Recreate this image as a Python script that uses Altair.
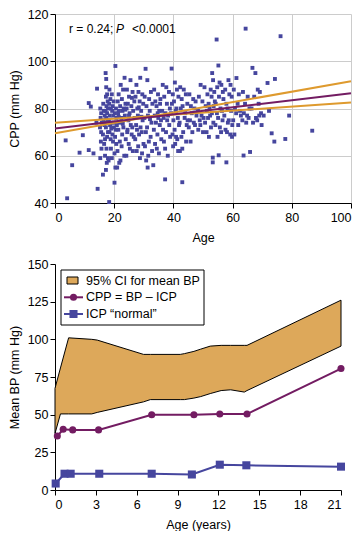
import altair as alt
import pandas as pd

# ---------------- Top panel: scatter of CPP vs Age ----------------
pts = [
    # sparse young
    (3.6, 66.5), (4.1, 42), (5.8, 56), (8.3, 61.3), (9.4, 68.7), (11.4, 62.4), (11.4, 82.3),
    (13.0, 61), (12.1, 80.8), (14.0, 74),
    # 14-18
    (14.2, 88.4), (14.4, 46), (15.3, 80), (15.6, 78), (15.4, 76), (15.8, 74), (15.2, 72), (15.6, 70),
    (15.5, 66), (15.7, 63), (15.3, 59), (16.2, 52), (16.3, 82), (16.5, 79), (16.8, 77), (16.4, 75),
    (16.7, 73), (16.2, 69), (16.9, 67), (16.6, 65), (16.9, 60), (17.1, 95), (17.3, 92.5), (17.3, 89),
    (17.6, 86), (17.2, 85), (17.8, 83), (17.4, 81), (17.9, 80), (17.1, 79), (17.6, 78), (17.3, 76),
    (17.8, 75), (17.5, 74), (17.2, 72), (17.9, 70), (17.6, 68), (17.4, 63), (17.9, 59), (17.5, 57),
    (17.2, 54),
    # 18-21
    (20.4, 98), (18.4, 88), (19.2, 86), (18.7, 84), (19.8, 83), (18.3, 82), (19.5, 81), (20.6, 80),
    (18.9, 80), (19.3, 79), (20.2, 78), (18.5, 77), (19.7, 77), (20.8, 76), (18.2, 75), (19.1, 74),
    (20.0, 74), (18.6, 73), (19.9, 72), (20.5, 71), (18.4, 70), (19.4, 69), (20.3, 68), (18.8, 67),
    (19.6, 66), (20.7, 65), (18.9, 63), (20.1, 61), (19.2, 59), (20.4, 55), (18.3, 40.4), (20.1, 48.6),
    (18.1, 58), (19.0, 71.5), (20.9, 73),
    # 21-24
    (23.5, 93), (22.2, 90), (23.0, 88), (21.5, 86), (22.6, 84), (21.2, 83), (23.8, 82), (22.0, 81),
    (23.2, 80), (21.6, 79), (22.8, 79), (21.3, 78), (23.6, 77), (22.4, 76), (21.8, 74), (23.1, 72),
    (21.4, 71), (22.7, 69), (23.9, 67), (21.9, 66), (22.5, 64), (21.1, 62), (23.4, 60), (22.1, 58),
    (21.7, 57), (21.0, 55), (22.9, 73.5), (21.5, 76.5), (23.7, 79.5),
    # 24-27
    (25.5, 92), (24.3, 88), (26.2, 87), (25.0, 85), (26.8, 83), (24.6, 82), (25.8, 81), (24.2, 80),
    (26.4, 79), (25.2, 78), (26.9, 76), (24.8, 75), (25.6, 73), (26.1, 72), (24.4, 70), (25.9, 69),
    (26.6, 68), (24.9, 65), (25.3, 63), (26.3, 62), (24.1, 60), (26.0, 84.5), (25.0, 77), (24.5, 71),
    # 27-30
    (28.8, 93), (27.5, 90), (28.2, 87), (29.5, 86), (27.2, 85), (28.6, 83), (29.8, 82), (27.8, 80),
    (29.1, 79), (28.0, 77), (29.6, 75), (27.4, 73), (28.9, 72), (27.7, 71), (29.3, 70), (28.4, 69),
    (27.1, 67), (29.9, 65), (28.1, 64), (27.6, 62), (29.4, 61), (28.7, 59), (28.3, 80.5), (29.2, 76.5),
    # 30-33
    (30.6, 96.8), (31.2, 92), (32.4, 87), (30.3, 85), (31.8, 84), (32.9, 82), (30.9, 81), (32.0, 79),
    (31.4, 77), (30.2, 76), (32.6, 74), (31.1, 72), (30.7, 70), (32.3, 68), (31.7, 66), (30.4, 64),
    (32.8, 62), (31.5, 60), (30.8, 58), (31.3, 55), (33.2, 56), (32.1, 75.5),
    # 33-36
    (33.5, 88), (34.8, 86), (35.6, 84), (33.9, 83), (34.3, 81), (35.2, 79), (33.7, 77), (34.9, 76),
    (35.8, 75), (34.1, 74), (35.4, 73), (33.4, 71), (34.6, 69), (35.9, 67), (33.8, 65), (34.4, 63),
    (35.1, 61), (34.7, 78), (35.5, 82),
    # 36-39
    (36.4, 90), (37.6, 89), (38.5, 87), (36.9, 85), (37.8, 82), (38.8, 80), (36.2, 79), (37.3, 78),
    (38.2, 77), (36.7, 76), (37.9, 75), (38.6, 73), (36.5, 71), (37.5, 70), (38.9, 68), (36.8, 66),
    (37.2, 63), (38.1, 60), (37.2, 50),
    # 39-42
    (39.4, 96.9), (40.5, 91), (41.2, 88), (39.8, 86), (41.7, 85), (40.2, 83), (39.5, 82), (41.0, 80),
    (40.8, 79), (39.2, 78), (41.5, 76), (40.0, 75), (41.9, 73), (40.4, 71), (39.7, 69), (41.3, 67),
    (40.6, 65), (39.9, 64), (41.6, 62), (40.9, 68),
    # 42-45
    (42.3, 89), (43.5, 88), (44.2, 86), (42.8, 84), (44.7, 82), (43.1, 81), (42.5, 80), (44.0, 78),
    (43.8, 76), (42.1, 74), (44.5, 73), (43.3, 70), (42.7, 68), (44.3, 66), (43.0, 63), (43.0, 48.8),
    (42.2, 62), (44.8, 75),
    # 45-48
    (45.4, 86), (46.7, 84), (47.5, 83), (45.9, 81), (47.1, 80), (46.2, 78), (47.8, 77), (45.6, 75),
    (46.9, 74), (47.3, 73), (45.2, 72), (46.4, 70), (45.8, 66),
    # 48-51
    (49.2, 90), (50.5, 89), (48.6, 85), (49.8, 83), (50.9, 81), (48.3, 79), (49.5, 77), (50.2, 76),
    (48.9, 75), (50.7, 74), (49.1, 73), (48.4, 71), (50.0, 70),
    # 51-54
    (53.1, 95), (53.4, 92), (52.6, 88), (53.8, 87), (51.5, 86), (52.9, 85), (51.9, 82), (53.6, 81),
    (52.2, 80), (51.3, 79), (53.0, 78), (52.4, 77), (51.7, 76), (53.5, 74), (52.7, 72), (51.2, 70),
    (52.0, 68), (53.3, 59.2), (53.3, 57.2), (54.0, 83),
    # 54-57
    (55.2, 98.2), (54.6, 109.2), (55.6, 91), (56.2, 90), (54.8, 89), (56.7, 87), (55.4, 85), (56.9, 84),
    (54.3, 82), (55.9, 80), (56.4, 79), (54.7, 78), (55.1, 76), (56.6, 75), (54.2, 73), (55.7, 72),
    (56.1, 70), (54.9, 68), (55.3, 60.2),
    # 57-60
    (58.6, 92), (59.3, 90), (57.5, 88), (58.9, 86), (59.7, 85), (57.9, 82), (58.3, 80), (59.5, 79),
    (57.2, 77), (58.7, 75), (59.9, 73), (57.6, 71), (58.1, 70), (59.2, 69), (59.8, 68), (57.9, 57.2),
    (58.4, 74),
    # 60-63
    (61.3, 92.9), (60.4, 88), (62.1, 86), (61.7, 82), (60.8, 80), (62.5, 79), (61.2, 78), (62.8, 77),
    (60.2, 75), (61.9, 73), (60.6, 69),
    # 63-66
    (64.4, 113.8), (63.5, 87), (65.1, 85), (64.2, 82), (65.7, 80), (63.8, 78), (64.9, 77), (65.4, 76),
    (63.3, 75), (64.6, 74), (63.7, 60.1), (65.9, 61.6),
    # 66-70
    (66.7, 97.2), (67.7, 95), (68.5, 88), (69.2, 87), (67.3, 85), (68.8, 82), (66.4, 80), (69.6, 78),
    (67.9, 76), (68.3, 75), (66.9, 74), (69.8, 73), (69.0, 77),
    # 70+
    (71.8, 90.8), (72.3, 79), (70.5, 77), (74.3, 92.5), (73.2, 69.5), (74.1, 66), (77.8, 67.1),
    (79.1, 77), (86.9, 70.6), (76.2, 110.6),
]
age = [p[0] for p in pts]
cpp = [p[1] for p in pts]

line_age = [0, 100]
fit_cpp = [71.5, 86.5]
ci_a = [74.0, 82.5]
ci_b = [69.5, 91.5]

# ---------------- Bottom panel ----------------
band_age = [0, 0.4, 1.0, 2.7, 3.1, 6.5, 7.0, 9.2, 9.5, 10.2, 10.7, 11.4, 12.2, 12.9, 13.9, 14.1, 21]
band_hi = [67.5, 81, 101, 100, 99.5, 90, 90, 90, 90.5, 92, 93.5, 95.5, 96, 96, 96, 96, 126]
band_lo = [37.5, 50.5, 50.5, 50.5, 51.5, 58.5, 60, 60, 60, 61, 62, 64, 66, 66.5, 65, 66, 95.5]

cpp_age = [0.17, 0.6, 1.3, 3.2, 7.1, 10.2, 12.1, 14.1, 21]
cpp_val = [35.8, 40.3, 39.9, 39.9, 50, 50, 50.4, 50.4, 80.6]

icp_age = [0.05, 0.7, 1.15, 3.25, 7.1, 10.05, 12.1, 14.05, 21.0]
icp_val = [4.3, 10.8, 10.8, 10.8, 10.8, 10.3, 16.8, 16.4, 15.5]

legend_labels = ["95% CI for mean BP", "CPP = BP \u2013 ICP", "ICP \u201cnormal\u201d"]

FONT = "Liberation Sans"
ORANGE = "#DE9A2E"
PURPLE = "#731C62"
BLUE = "#46469E"
BAND = "#DDA85A"


def one():
    return pd.DataFrame({"a": [0]})


# ---- top chart ----
W1, H1 = 296, 189
sc = pd.DataFrame({"age": age, "cpp": cpp})
xs1 = alt.Scale(domain=[0, 100], nice=False)
ys1 = alt.Scale(domain=[40, 120], nice=False)
xax1 = alt.Axis(title="Age", values=[0, 20, 40, 60, 80, 100], grid=True)
yax1 = alt.Axis(title="CPP (mm Hg)", values=[40, 60, 80, 100, 120], grid=True)

scatter = alt.Chart(sc).mark_square(size=15, color=BLUE, opacity=1).encode(
    x=alt.X("age:Q", scale=xs1, axis=xax1),
    y=alt.Y("cpp:Q", scale=ys1, axis=yax1),
)

ldf = pd.DataFrame({"age": line_age, "fit": fit_cpp, "a": ci_a, "b": ci_b})
line_a = alt.Chart(ldf).mark_line(color=ORANGE, strokeWidth=2).encode(
    x=alt.X("age:Q", scale=xs1, axis=xax1), y=alt.Y("a:Q", scale=ys1, axis=yax1))
line_b = alt.Chart(ldf).mark_line(color=ORANGE, strokeWidth=2).encode(
    x=alt.X("age:Q", scale=xs1, axis=xax1), y=alt.Y("b:Q", scale=ys1, axis=yax1))
line_fit = alt.Chart(ldf).mark_line(color=PURPLE, strokeWidth=2).encode(
    x=alt.X("age:Q", scale=xs1, axis=xax1), y=alt.Y("fit:Q", scale=ys1, axis=yax1))

ann_1 = alt.Chart(one()).mark_text(align="left", baseline="middle", fontSize=12, font=FONT,
                                   color="black", text="r = 0.24;").encode(x=alt.value(14), y=alt.value(15))
ann_2 = alt.Chart(one()).mark_text(align="left", baseline="middle", fontSize=12, font=FONT,
                                   fontStyle="italic", color="black", text="P").encode(x=alt.value(61), y=alt.value(15))
ann_3 = alt.Chart(one()).mark_text(align="left", baseline="middle", fontSize=12, font=FONT,
                                   color="black", text="<0.0001").encode(x=alt.value(77), y=alt.value(15))

top = alt.layer(scatter, line_a, line_b, line_fit, ann_1, ann_2, ann_3).properties(width=W1, height=H1)

# ---- bottom chart ----
W2, H2 = 286, 226
xs2 = alt.Scale(domain=[0, 21], nice=False)
ys2 = alt.Scale(domain=[0, 150], nice=False)
xax2 = alt.Axis(title="Age (years)", values=[0, 3, 6, 9, 12, 15, 18, 21], grid=False)
yax2 = alt.Axis(title="Mean BP (mm Hg)", values=[0, 25, 50, 75, 100, 125, 150], grid=False, labelOverlap=False)

bdf = pd.DataFrame({"age": band_age, "hi": band_hi, "lo": band_lo})
band = alt.Chart(bdf).mark_area(color=BAND, opacity=1, stroke="black", strokeWidth=1).encode(
    x=alt.X("age:Q", scale=xs2, axis=xax2),
    y=alt.Y("lo:Q", scale=ys2, axis=yax2),
    y2="hi:Q",
)

cdf = pd.DataFrame({"age": cpp_age, "v": cpp_val})
cpp_line = alt.Chart(cdf).mark_line(color=PURPLE, strokeWidth=2,
                                     point=alt.OverlayMarkDef(filled=True, size=50, color=PURPLE)).encode(
    x=alt.X("age:Q", scale=xs2, axis=xax2), y=alt.Y("v:Q", scale=ys2, axis=yax2))

idf = pd.DataFrame({"age": icp_age, "v": icp_val})
icp_line = alt.Chart(idf).mark_line(color=BLUE, strokeWidth=2,
                                     point=alt.OverlayMarkDef(filled=True, size=65, shape="square", color=BLUE)).encode(
    x=alt.X("age:Q", scale=xs2, axis=xax2), y=alt.Y("v:Q", scale=ys2, axis=yax2))

# manual legend (pixel positions inside plot area)
leg_box = alt.Chart(one()).mark_rect(fill="white", stroke="black", strokeWidth=1).encode(
    x=alt.value(6), x2=alt.value(149), y=alt.value(6), y2=alt.value(61))
leg_sw = alt.Chart(one()).mark_rect(fill=BAND, stroke="black", strokeWidth=1).encode(
    x=alt.value(12), x2=alt.value(23), y=alt.value(13), y2=alt.value(20))
leg_l1 = alt.Chart(one()).mark_rule(color=PURPLE, strokeWidth=2).encode(
    x=alt.value(9), x2=alt.value(28), y=alt.value(33.3))
leg_p1 = alt.Chart(one()).mark_point(filled=True, size=50, color=PURPLE, opacity=1).encode(
    x=alt.value(18.5), y=alt.value(33.3))
leg_l2 = alt.Chart(one()).mark_rule(color=BLUE, strokeWidth=2).encode(
    x=alt.value(9), x2=alt.value(28), y=alt.value(50))
leg_p2 = alt.Chart(one()).mark_square(size=65, color=BLUE, opacity=1).encode(
    x=alt.value(18.5), y=alt.value(50))
leg_t = []
for lab, yy in zip(legend_labels, [16.5, 33.3, 50]):
    leg_t.append(alt.Chart(one()).mark_text(align="left", baseline="middle", fontSize=12.5, font=FONT,
                                            color="black", text=lab).encode(x=alt.value(31), y=alt.value(yy)))

bottom = alt.layer(band, cpp_line, icp_line, leg_box, leg_sw, leg_l1, leg_p1, leg_l2, leg_p2, *leg_t).properties(
    width=W2, height=H2)

chart = alt.vconcat(top, bottom, spacing=14).configure(
    font=FONT, padding=0,
).configure_axis(
    labelFont=FONT, titleFont=FONT, labelFontSize=12.5, titleFontSize=12.5, titleFontWeight="normal",
    labelColor="black", titleColor="black", domainColor="black", tickColor="black",
    gridColor="#cccccc", tickSize=5, labelPadding=3, titlePadding=8,
).configure_axisY(titlePadding=6, labelPadding=2).configure_view(stroke=None)

chart.save("out.html", embed_options={"renderer": "svg", "actions": False})
